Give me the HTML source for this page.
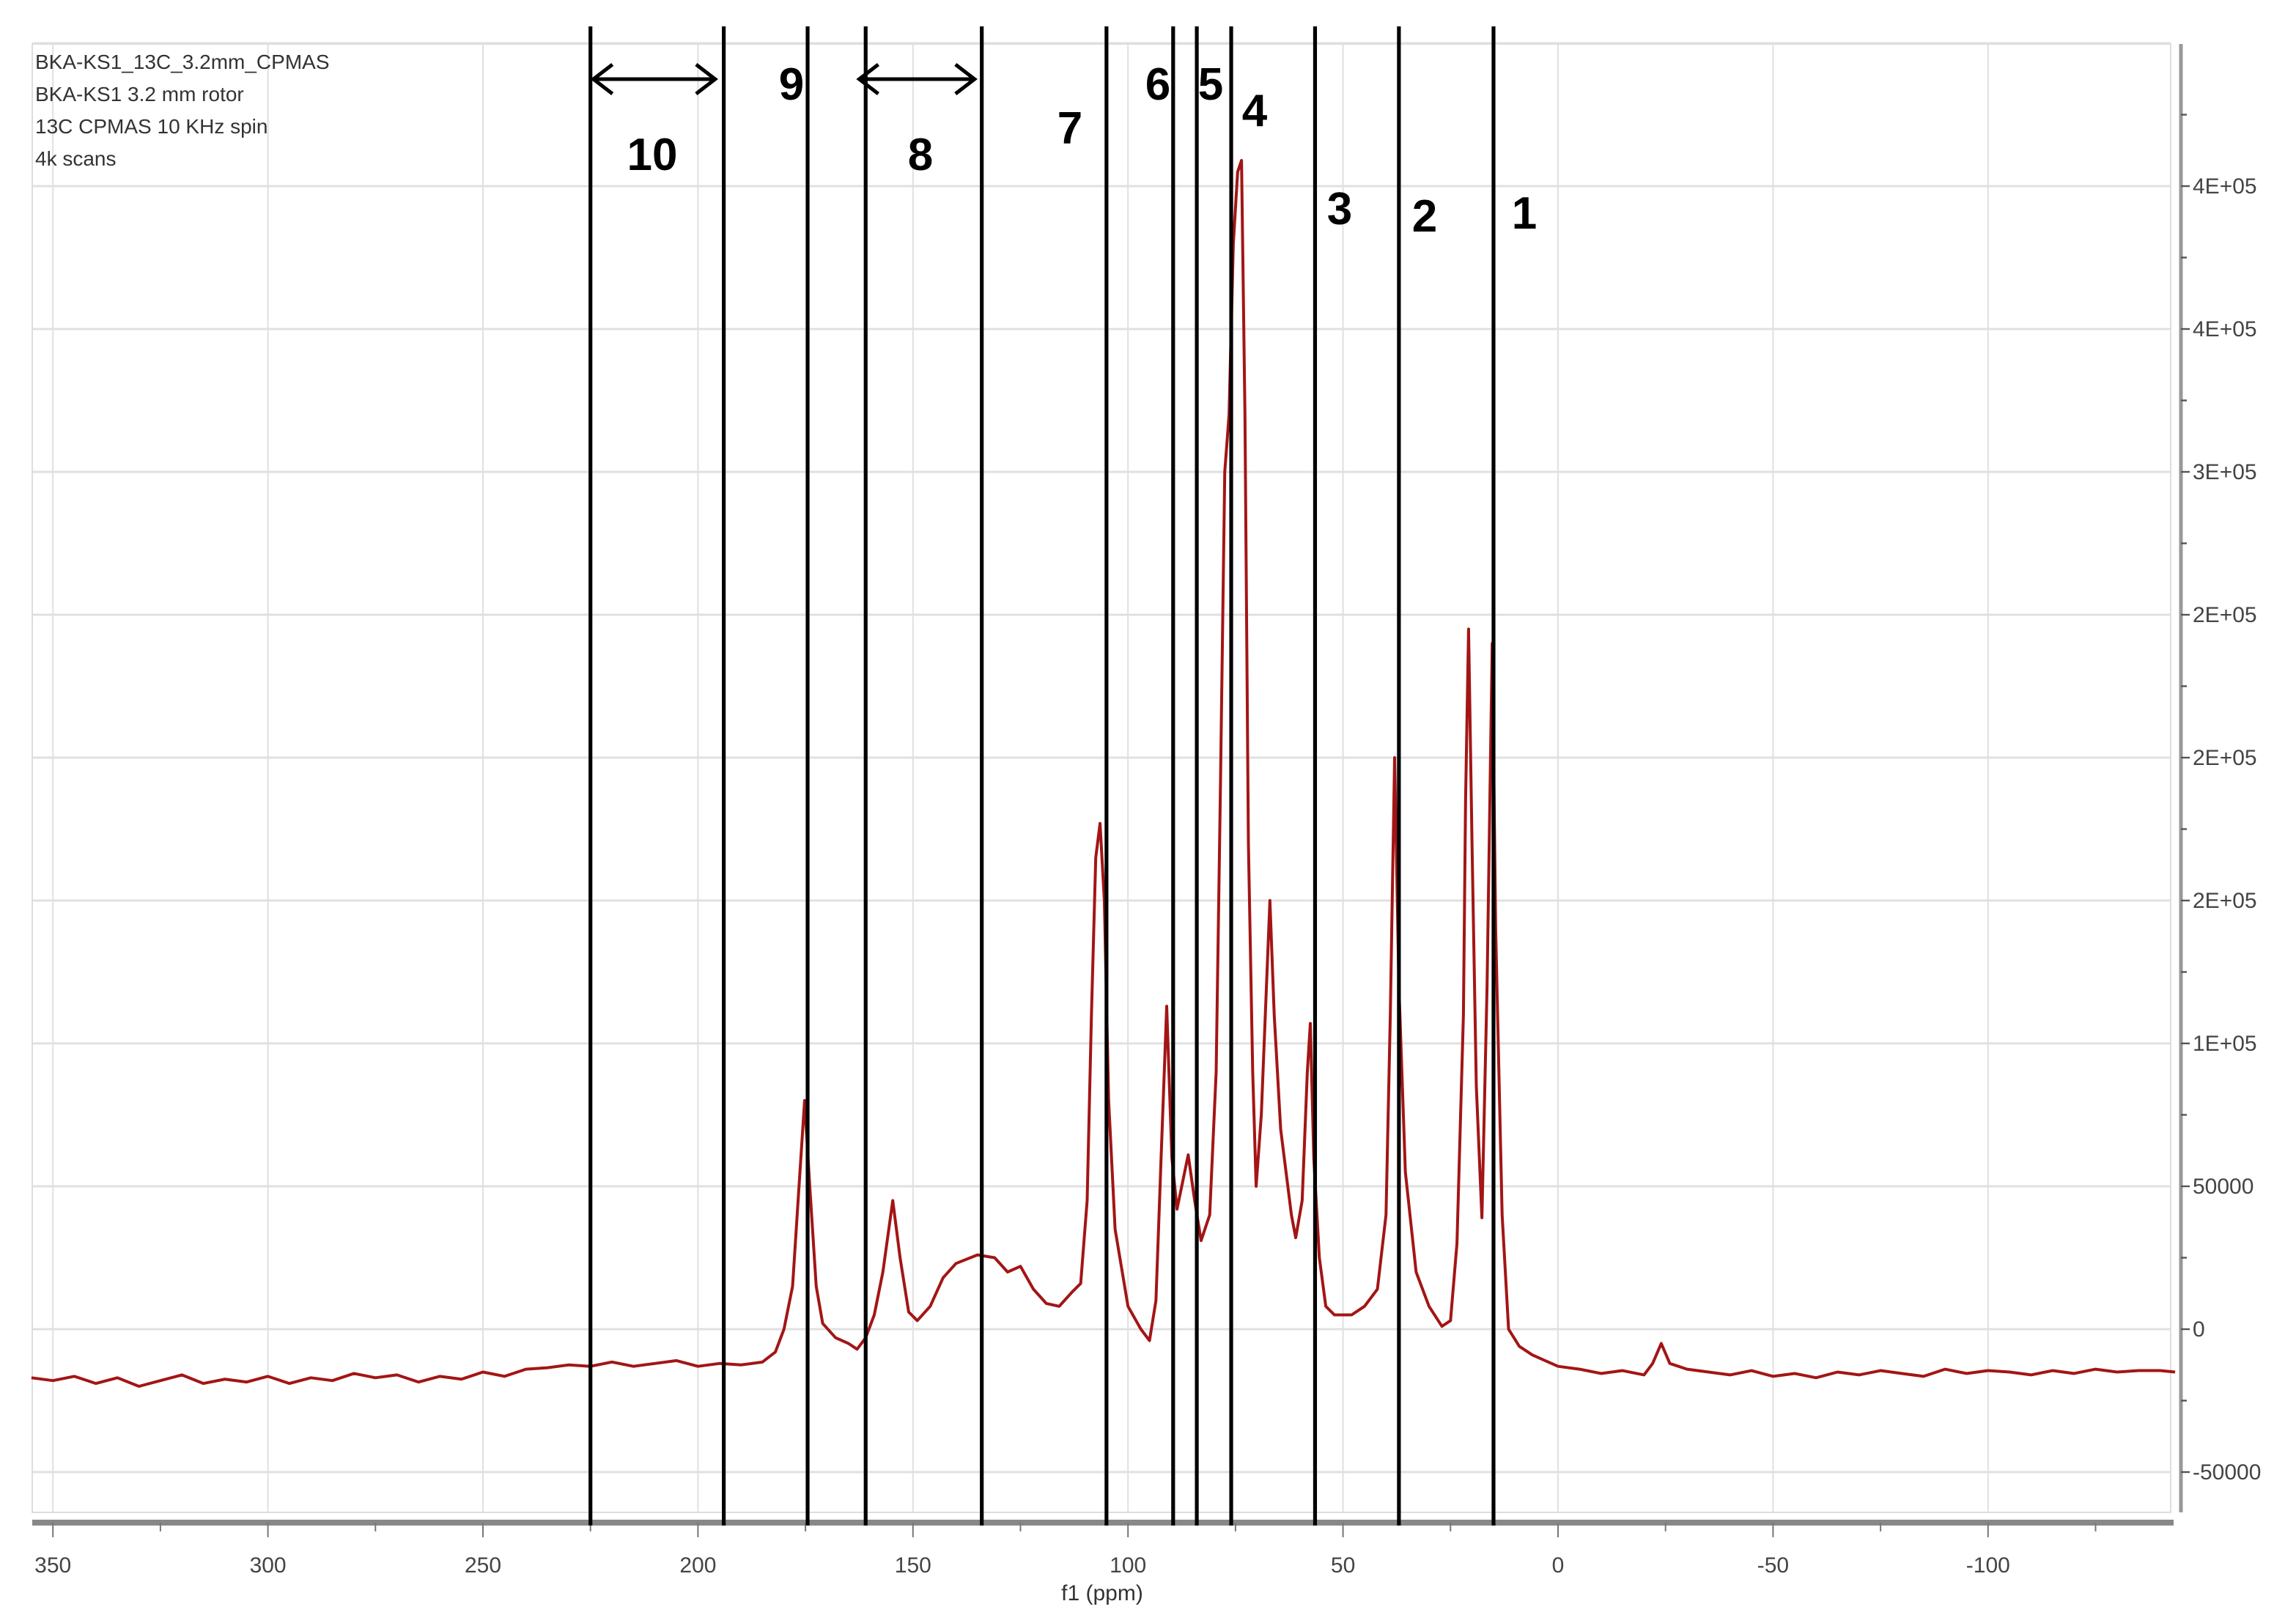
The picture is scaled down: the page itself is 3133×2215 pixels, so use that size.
<!DOCTYPE html>
<html><head><meta charset="utf-8"><style>
html,body{margin:0;padding:0;background:#fff;}
svg{display:block;}
text{font-family:"Liberation Sans",sans-serif;}
</style></head><body>
<svg id="chart" width="3133" height="2215" viewBox="0 0 1566.5 1107.5" xmlns="http://www.w3.org/2000/svg">
<rect x="0" y="0" width="1566.5" height="1107.5" fill="#fff"/>
<g id="grid"></g>
<rect x="22" y="30" width="1459" height="1002" fill="none" stroke="#ddd" stroke-width="1"/>
<g id="spec"></g>
<g id="axes"></g>
<g id="marks"></g>
<g fill="#333" font-size="14">
<text x="24" y="47">BKA-KS1_13C_3.2mm_CPMAS</text>
<text x="24" y="69">BKA-KS1 3.2 mm rotor</text>
<text x="24" y="91">13C CPMAS 10 KHz spin</text>
<text x="24" y="113">4k scans</text>
</g>
<text x="752" y="1092" font-size="15" fill="#333" text-anchor="middle">f1 (ppm)</text>
</svg>
<script>
const ppm = [355,350,345,340,335,330,325,320,315,310,305,300,295,290,285,280,275,270,265,260,255,250,245,240,235,230,225,220,215,210,205,200,195,190,185,182,180,178,176.5,175.2,174,172.5,171,168,165,163,161,159,157,154.7,153,151,149,146,143,140,135,131,128,125,122,119,116,113,111,109.5,108.5,107.5,106.5,105.5,104.5,103,100,97,95,93.5,92.3,91,89.8,88.6,86,84.5,83,81,79.5,78.5,77.5,76.5,75.5,74.5,73.6,72.8,72,71,70.2,69,67,66,64.5,62,61,59.5,58.3,57.6,56.8,55.5,54,52,48,45,42,40,39,38,37,35.5,33,30,27,25,23.5,22,21.5,20.8,20,19,17.7,16.5,15.3,14.5,13,11.5,9,6,3,0,-5,-10,-15,-20,-22,-24,-26,-30,-35,-40,-45,-50,-55,-60,-65,-70,-75,-80,-85,-90,-95,-100,-105,-110,-115,-120,-125,-130,-135,-140,-143.5];
const intensity = [-17000,-18000,-16500,-19000,-17000,-20000,-18000,-16000,-19000,-17500,-18500,-16500,-19000,-17000,-18000,-15500,-17000,-16000,-18500,-16500,-17500,-15000,-16500,-14000,-13500,-12500,-13000,-11500,-13000,-12000,-11000,-13000,-12000,-12500,-11500,-8000,0,15000,50000,80000,50000,15000,2000,-3000,-5000,-7000,-3000,5000,20000,45000,25000,6000,3000,8000,18000,23000,26000,25000,20000,22000,14000,9000,8000,13000,16000,45000,110000,165000,177000,150000,80000,35000,8000,0,-4000,10000,60000,113000,60000,42000,61000,45000,31000,40000,90000,190000,300000,320000,380000,405000,409000,320000,170000,90000,50000,75000,150000,110000,70000,40000,32000,45000,90000,107000,60000,25000,8000,5000,5000,8000,14000,40000,110000,200000,120000,55000,20000,8000,1000,3000,30000,110000,185000,245000,170000,85000,39000,120000,240000,140000,40000,0,-6000,-9000,-11000,-13000,-14000,-15500,-14500,-16000,-12000,-5000,-12000,-14000,-15000,-16000,-14500,-16500,-15500,-17000,-15000,-16000,-14500,-15500,-16500,-14000,-15500,-14500,-15000,-16000,-14500,-15500,-14000,-15000,-14500,-14500,-15000];
const xTicks = [350,300,250,200,150,100,50,0,-50,-100];
const yTickValues = [-50000,0,50000,100000,150000,200000,250000,300000,350000,400000];
const yTickLabels = ["-50000","0","50000","1E+05","2E+05","2E+05","2E+05","3E+05","4E+05","4E+05"];
const markerPpm = [225,194,174.5,161,134,105,89.5,84,76,56.5,37,15];
const markerLabels = ["10","9","8","7","6","5","4","3","2","1"];
const labelPos = [[445,105],[540,57],[628,105],[730,87],[790,57],[826,57],[856,75],[914,142],[972,147],[1040,145]];

const NS="http://www.w3.org/2000/svg";
const X = p => 1063 - p*2.934;
const Y = v => 907 - v*97.5/50000;
function mk(tag, attrs, parent){const e=document.createElementNS(NS,tag);for(const k in attrs)e.setAttribute(k,attrs[k]);parent.appendChild(e);return e;}
const grid=document.getElementById('grid'), axes=document.getElementById('axes'), spec=document.getElementById('spec'), marks=document.getElementById('marks');

for(const t of xTicks){
  const l=mk('line',{x1:X(t),x2:X(t),y1:30,y2:1032,stroke:'#e0e0e0','stroke-width':1},grid);
  
  
}
for(const v of yTickValues.concat([450000])){
  const l=mk('line',{x1:22,x2:1481,y1:Y(v),y2:Y(v),stroke:'#e0e0e0','stroke-width':1.5},grid);
  
  
}
const xa=mk('line',{x1:22,x2:1483,y1:1039,y2:1039,stroke:'#888','stroke-width':4},axes);


for(let p=350;p>=-125;p-=25){
  mk('line',{x1:X(p),x2:X(p),y1:1039,y2:p%50===0?1049:1045,stroke:'#777','stroke-width':1},axes);
}
xTicks.forEach(t=>{
  const tx=mk('text',{x:X(t),y:1073,'font-size':15,fill:'#444','text-anchor':'middle'},axes);
  tx.textContent=String(t);
  
  
});
const ya=mk('line',{x1:1488,x2:1488,y1:30,y2:1032,stroke:'#999','stroke-width':2.5},axes);


yTickValues.forEach((v,i)=>{
  mk('line',{x1:1488,x2:1494,y1:Y(v),y2:Y(v),stroke:'#555','stroke-width':1.2},axes);
  mk('line',{x1:1488,x2:1492,y1:Y(v+25000),y2:Y(v+25000),stroke:'#555','stroke-width':1.2},axes);
  const tx=mk('text',{x:1496,y:Y(v)+5,'font-size':15,fill:'#444'},axes);
  tx.textContent=yTickLabels[i];
  
  
});
let d='';
ppm.forEach((p,i)=>{d+=(i?'L':'M')+X(p).toFixed(2)+' '+Y(intensity[i]).toFixed(2);});
const path=mk('path',{d:d,fill:'none',stroke:'#a31515','stroke-width':2,'stroke-linejoin':'round'},spec);


markerPpm.forEach(p=>{
  const l=mk('line',{x1:X(p),x2:X(p),y1:18,y2:1041,stroke:'#000','stroke-width':2.6},marks);
  
  
});
function arrow(x1,x2,y){
  const g=mk('g',{stroke:'#000','stroke-width':2.5,fill:'none'},marks);
  
  
  mk('line',{x1:x1,x2:x2,y1:y,y2:y},g);
  mk('polyline',{points:`${x1+13},${y-10} ${x1},${y} ${x1+13},${y+10}`},g);
  mk('polyline',{points:`${x2-13},${y-10} ${x2},${y} ${x2-13},${y+10}`},g);
}
arrow(X(225)+2,X(196),54);
arrow(X(162.5),X(135)-2,54);
markerLabels.forEach((s,i)=>{
  const t=mk('text',{x:labelPos[i][0],y:labelPos[i][1]+11,'font-size':31,'font-weight':'bold',fill:'#000','text-anchor':'middle'},marks);
  t.textContent=s;
  
  
});
</script>
</body></html>
